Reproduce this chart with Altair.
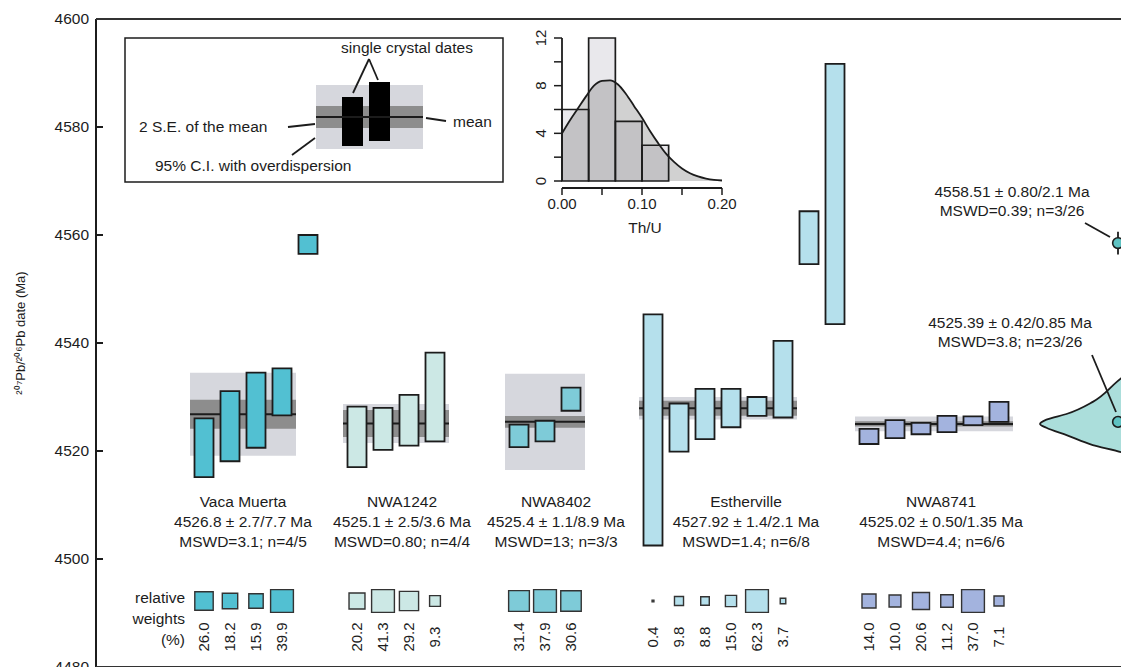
import altair as alt
import pandas as pd

FONT = "Liberation Sans"
INK = "#1c1c1c"

# ---------------- data ----------------
groups = ["Vaca Muerta", "NWA1242", "NWA8402", "Estherville", "NWA8741"]
group_colors = ["#52c0d2", "#cce8e5", "#7ecbd8", "#b5e0ec", "#a3b3de"]
group_mean = [4526.8, 4525.1, 4525.4, 4527.92, 4525.02]
group_se2 = [2.7, 2.5, 1.1, 1.4, 0.50]
group_ci = [7.7, 3.6, 8.9, 2.1, 1.35]
group_date_text = ["4526.8 ± 2.7/7.7 Ma", "4525.1 ± 2.5/3.6 Ma", "4525.4 ± 1.1/8.9 Ma",
                   "4527.92 ± 1.4/2.1 Ma", "4525.02 ± 0.50/1.35 Ma"]
group_mswd_text = ["MSWD=3.1; n=4/5", "MSWD=0.80; n=4/4", "MSWD=13; n=3/3",
                   "MSWD=1.4; n=6/8", "MSWD=4.4; n=6/6"]

crystal_group = [0] * 4 + [1] * 4 + [2] * 3 + [3] * 6 + [4] * 6
crystal_date = [4520.6, 4524.6, 4527.55, 4530.95,
                4522.6, 4524.1, 4525.7, 4530.0,
                4522.8, 4523.7, 4529.6,
                4523.9, 4524.35, 4526.85, 4527.95, 4528.25, 4533.3,
                4522.7, 4524.05, 4524.15, 4525.0, 4525.6, 4527.25]
crystal_err = [5.45, 6.5, 6.95, 4.35,
               5.6, 3.9, 4.7, 8.2,
               2.1, 1.9, 2.15,
               21.4, 4.45, 4.65, 3.55, 1.75, 7.1,
               1.4, 1.65, 1.05, 1.5, 0.8, 1.85]
crystal_weight = [26.0, 18.2, 15.9, 39.9,
                  20.2, 41.3, 29.2, 9.3,
                  31.4, 37.9, 30.6,
                  0.4, 9.8, 8.8, 15.0, 62.3, 3.7,
                  14.0, 10.0, 20.6, 11.2, 37.0, 7.1]

rejected_group = [0, 3, 3]
rejected_slot = [4, 6, 7]
rejected_date = [4558.25, 4559.5, 4567.6]
rejected_err = [1.75, 4.9, 24.1]

combined_date = [4558.51, 4525.39]
combined_err = [2.1, 0.85]
combined_date_text = ["4558.51 ± 0.80/2.1 Ma", "4525.39 ± 0.42/0.85 Ma"]
combined_mswd_text = ["MSWD=0.39; n=3/26", "MSWD=3.8; n=23/26"]

violin_date = [4500, 4505, 4510, 4514, 4516, 4518, 4519.6, 4521.1, 4522.9, 4524.3, 4525.0,
               4525.8, 4526.9, 4529.1, 4532.8, 4534.8, 4537, 4540, 4545, 4550, 4555, 4558.5,
               4562, 4570]
violin_density = [0.02, 0.06, 0.14, 0.26, 0.34, 0.44, 0.48, 0.67, 0.83, 0.96, 1.0,
                  0.96, 0.83, 0.67, 0.52, 0.44, 0.37, 0.29, 0.19, 0.12, 0.1, 0.11,
                  0.08, 0.02]

thu_bin_lo = [0.0, 0.0333, 0.0667, 0.1]
thu_bin_hi = [0.0333, 0.0667, 0.1, 0.1333]
thu_count = [6, 12, 5, 3]
thu_kde_x = [0.00, 0.01, 0.02, 0.03, 0.04, 0.05, 0.06, 0.07, 0.08, 0.09, 0.10,
             0.11, 0.12, 0.13, 0.14, 0.15, 0.16, 0.17, 0.18, 0.19, 0.20]
thu_kde_y = [4.0, 5.1, 6.1, 7.1, 8.0, 8.4, 8.45, 8.1, 7.3, 6.3, 5.3,
             4.2, 3.2, 2.3, 1.6, 1.05, 0.65, 0.38, 0.2, 0.09, 0.04]

date_ticks = [4480, 4500, 4520, 4540, 4560, 4580, 4600]
date_title = "²⁰⁷Pb/²⁰⁶Pb date (Ma)"
thu_x_ticks = [0.0, 0.05, 0.10, 0.15, 0.20]
thu_x_labels = [0.0, 0.10, 0.20]
thu_y_ticks = [0, 2, 4, 6, 8, 10, 12]
thu_y_labels = [0, 4, 8, 12]

# ---------------- layout (reference pixel frame) ----------------
W, H = 1025, 648
X0, Y0 = 96, 19
first_x = [204, 357, 519, 653, 869]
SLOT = 26
HALF = 9.5
PAD = 14
label_x = [243, 402, 556, 746, 941]
label_base = [507, 527, 547]
square_y = 601 - Y0
wlabel_y = 637 - Y0
combined_x = 1118
combined_label_x = [1012, 1010]
combined_label_base = [[197, 216], [328, 347]]

xs = alt.Scale(domain=[X0, X0 + W], nice=False, zero=False)
ys = alt.Scale(domain=[4480, 4600], nice=False, zero=False)
ays = alt.Scale(domain=[Y0, Y0 + H], reverse=True, nice=False, zero=False)
cscale = alt.Scale(domain=groups, range=group_colors)

# crystals
slots, cnt = [], {}
for g in crystal_group:
    slots.append(cnt.get(g, 0))
    cnt[g] = cnt.get(g, 0) + 1
cry = pd.DataFrame({
    "group": [groups[g] for g in crystal_group],
    "x": [first_x[g] + SLOT * s for g, s in zip(crystal_group, slots)],
    "lo": [d - e for d, e in zip(crystal_date, crystal_err)],
    "hi": [d + e for d, e in zip(crystal_date, crystal_err)],
    "weight": crystal_weight,
})
cry["x0"] = cry["x"] - HALF
cry["x1"] = cry["x"] + HALF

rej = pd.DataFrame({
    "group": [groups[g] for g in rejected_group],
    "x": [first_x[g] + SLOT * s for g, s in zip(rejected_group, rejected_slot)],
    "lo": [d - e for d, e in zip(rejected_date, rejected_err)],
    "hi": [d + e for d, e in zip(rejected_date, rejected_err)],
})
rej["x0"] = rej["x"] - HALF
rej["x1"] = rej["x"] + HALF

bands = pd.DataFrame({
    "group": groups,
    "x0": [first_x[i] - PAD for i in range(5)],
    "x1": [first_x[i] + SLOT * (cnt[i] - 1) + PAD for i in range(5)],
    "mean": group_mean,
    "ci_lo": [m - c for m, c in zip(group_mean, group_ci)],
    "ci_hi": [m + c for m, c in zip(group_mean, group_ci)],
    "se_lo": [m - s for m, s in zip(group_mean, group_se2)],
    "se_hi": [m + s for m, s in zip(group_mean, group_se2)],
})

light = alt.Chart(bands).mark_rect(color="#d6d7dd").encode(
    x=alt.X("x0:Q", scale=xs, axis=None), x2="x1:Q",
    y=alt.Y("ci_lo:Q", scale=ys, axis=None), y2="ci_hi:Q")
dark = alt.Chart(bands).mark_rect(color="#8d8d8d").encode(
    x=alt.X("x0:Q", scale=xs, axis=None), x2="x1:Q",
    y=alt.Y("se_lo:Q", scale=ys, axis=None), y2="se_hi:Q")
meanline = alt.Chart(bands).mark_rule(color=INK, strokeWidth=2).encode(
    x=alt.X("x0:Q", scale=xs, axis=None), x2="x1:Q",
    y=alt.Y("mean:Q", scale=ys, axis=None))

tick_df = pd.DataFrame({"t": date_ticks})
ydomain = alt.Chart(pd.DataFrame({"a": [0]})).mark_rule(color=INK, strokeWidth=2).encode(
    x=alt.value(0), y=alt.value(0), y2=alt.value(H))
ticks = alt.Chart(tick_df).mark_rule(color=INK, strokeWidth=2).encode(
    y=alt.Y("t:Q", scale=ys, axis=None), x=alt.value(0), x2=alt.value(7))
ylabels = alt.Chart(tick_df).mark_text(align="right", baseline="middle", font=FONT,
                                       fontSize=15.5, color=INK).encode(
    y=alt.Y("t:Q", scale=ys, axis=None), x=alt.value(-7), text=alt.Text("t:Q"))

bars = alt.Chart(cry).mark_rect(stroke=INK, strokeWidth=1.8).encode(
    x=alt.X("x0:Q", scale=xs, axis=None), x2="x1:Q",
    y=alt.Y("lo:Q", scale=ys, axis=None), y2="hi:Q",
    color=alt.Color("group:N", scale=cscale, legend=None))
rbars = alt.Chart(rej).mark_rect(stroke=INK, strokeWidth=1.8).encode(
    x=alt.X("x0:Q", scale=xs, axis=None), x2="x1:Q",
    y=alt.Y("lo:Q", scale=ys, axis=None), y2="hi:Q",
    color=alt.Color("group:N", scale=cscale, legend=None))

squares = alt.Chart(cry).transform_joinaggregate(
    wmax="max(weight)", groupby=["group"]
).transform_calculate(rel="datum.weight / datum.wmax").mark_square(
    stroke="#333333", strokeWidth=1.4, opacity=1).encode(
    x=alt.X("x:Q", scale=xs, axis=None), y=alt.value(square_y),
    size=alt.Size("rel:Q", scale=alt.Scale(domain=[0, 1], range=[0, 520]), legend=None),
    color=alt.Color("group:N", scale=cscale, legend=None))
wlabels = alt.Chart(cry).mark_text(angle=270, align="center", baseline="middle",
                                   font=FONT, fontSize=15, color=INK).encode(
    x=alt.X("x:Q", scale=xs, axis=None), y=alt.value(wlabel_y),
    text=alt.Text("weight:Q", format=".1f"))

comb = pd.DataFrame({
    "x": [combined_x] * 2,
    "date": combined_date,
    "lo": [d - e for d, e in zip(combined_date, combined_err)],
    "hi": [d + e for d, e in zip(combined_date, combined_err)],
})
comb_err = alt.Chart(comb).mark_rule(color=INK, strokeWidth=1.8).encode(
    x=alt.X("x:Q", scale=xs, axis=None), y=alt.Y("lo:Q", scale=ys, axis=None), y2="hi:Q")
comb_pt = alt.Chart(comb).mark_circle(size=115, color="#5ec2c2", stroke=INK,
                                      strokeWidth=1.6, opacity=1).encode(
    x=alt.X("x:Q", scale=xs, axis=None), y=alt.Y("date:Q", scale=ys, axis=None))

main = alt.layer(light, dark, meanline, ydomain, ticks, ylabels, bars, rbars, squares,
                 wlabels, comb_err, comb_pt)

# ---------------- violin ----------------
vdf = pd.DataFrame({"date": violin_date, "density": violin_density})
violin = alt.Chart(vdf).mark_area(orient="horizontal", interpolate="monotone", fill="#abdedb",
                                  stroke=INK, strokeWidth=1.8, clip=True).encode(
    y=alt.Y("date:Q", scale=ys, axis=None),
    x=alt.X("density:Q", scale=alt.Scale(domain=[0, 1], range=[1200 - X0, 1040 - X0]),
            axis=None))

# ---------------- Th/U histogram inset ----------------
hx = alt.Scale(domain=[0, 0.2], range=[562 - X0, 722 - X0], nice=False, zero=False)
hy = alt.Scale(domain=[0, 12], range=[181 - Y0, 38 - Y0], nice=False, zero=False)
hdf = pd.DataFrame({"lo": thu_bin_lo, "hi": thu_bin_hi, "n": thu_count})
kdf = pd.DataFrame({"t": thu_kde_x, "d": thu_kde_y})
one = pd.DataFrame({"a": [0]})
h_fill = alt.Chart(hdf).mark_rect(color="#e9e8ec").encode(
    x=alt.X("lo:Q", scale=hx, axis=None), x2="hi:Q",
    y=alt.Y("n:Q", scale=hy, axis=None), y2=alt.datum(0))
k_area = alt.Chart(kdf).mark_area(color="#7f7f7f", opacity=0.36, interpolate="monotone").encode(
    x=alt.X("t:Q", scale=hx, axis=None), y=alt.Y("d:Q", scale=hy, axis=None))
h_out = alt.Chart(hdf).mark_rect(fillOpacity=0, stroke=INK, strokeWidth=1.7).encode(
    x=alt.X("lo:Q", scale=hx, axis=None), x2="hi:Q",
    y=alt.Y("n:Q", scale=hy, axis=None), y2=alt.datum(0))
k_line = alt.Chart(kdf).mark_line(color=INK, strokeWidth=1.8, interpolate="monotone").encode(
    x=alt.X("t:Q", scale=hx, axis=None), y=alt.Y("d:Q", scale=hy, axis=None))
hy_dom = alt.Chart(one).mark_rule(color=INK, strokeWidth=1.8).encode(
    x=alt.value(562 - X0), y=alt.value(181 - Y0), y2=alt.value(38 - Y0))
hy_tk = alt.Chart(pd.DataFrame({"t": thu_y_ticks})).mark_rule(color=INK, strokeWidth=1.5).encode(
    y=alt.Y("t:Q", scale=hy, axis=None), x=alt.value(562 - X0 - 8), x2=alt.value(562 - X0))
hy_lb = alt.Chart(pd.DataFrame({"t": thu_y_labels})).mark_text(
    angle=270, align="center", baseline="middle", font=FONT, fontSize=15, color=INK).encode(
    y=alt.Y("t:Q", scale=hy, axis=None), x=alt.value(541 - X0), text=alt.Text("t:Q"))
hx_dom = alt.Chart(one).mark_rule(color=INK, strokeWidth=1.8).encode(
    y=alt.value(188 - Y0), x=alt.value(562 - X0), x2=alt.value(722 - X0))
hx_tk = alt.Chart(pd.DataFrame({"t": thu_x_ticks})).mark_rule(color=INK, strokeWidth=1.5).encode(
    x=alt.X("t:Q", scale=hx, axis=None), y=alt.value(188 - Y0), y2=alt.value(195 - Y0))
hx_lb = alt.Chart(pd.DataFrame({"t": thu_x_labels})).mark_text(
    align="center", baseline="middle", font=FONT, fontSize=15, color=INK).encode(
    x=alt.X("t:Q", scale=hx, axis=None), y=alt.value(204 - Y0),
    text=alt.Text("t:Q", format=".2f"))
hist = alt.layer(h_fill, k_area, h_out, k_line, hy_dom, hy_tk, hy_lb, hx_dom, hx_tk, hx_lb)

# ---------------- annotations (reference pixel frame) ----------------
frame = pd.DataFrame({"x": [X0, X0], "x2": [X0 + W, X0 + W], "y": [Y0, Y0 + H], "y2": [Y0, Y0 + H]})
frame_l = alt.Chart(frame).mark_rule(color="#333333", strokeWidth=2).encode(
    x=alt.X("x:Q", scale=xs, axis=None), x2="x2:Q",
    y=alt.Y("y:Q", scale=ays, axis=None), y2="y2:Q")

key_rects = pd.DataFrame({
    "x": [316, 316, 342, 369], "x2": [423, 423, 363, 390],
    "y": [85, 106, 97, 82], "y2": [149, 128, 146, 141],
    "fill": ["#d6d7dd", "#8d8d8d", "#000000", "#000000"],
})
key_r = alt.Chart(key_rects).mark_rect().encode(
    x=alt.X("x:Q", scale=xs, axis=None), x2="x2:Q",
    y=alt.Y("y:Q", scale=ays, axis=None), y2="y2:Q",
    color=alt.Color("fill:N", scale=None))
key_box = alt.Chart(pd.DataFrame({"x": [125], "x2": [503], "y": [38], "y2": [182]})).mark_rect(
    fillOpacity=0, stroke=INK, strokeWidth=1.5).encode(
    x=alt.X("x:Q", scale=xs, axis=None), x2="x2:Q",
    y=alt.Y("y:Q", scale=ays, axis=None), y2="y2:Q")
seg = pd.DataFrame({
    "x": [316, 369, 369, 426, 288, 292, 1085, 1092],
    "y": [117, 59, 59, 118, 127, 155, 223, 355],
    "x2": [423, 353, 378, 446, 315, 315, 1110, 1116],
    "y2": [117, 93, 80, 121, 124, 138, 237, 412],
})
seg_l = alt.Chart(seg).mark_rule(color=INK, strokeWidth=1.8).encode(
    x=alt.X("x:Q", scale=xs, axis=None), x2="x2:Q",
    y=alt.Y("y:Q", scale=ays, axis=None), y2="y2:Q")

ctext_rows = []
for i in range(5):
    for j, t in enumerate([groups[i], group_date_text[i], group_mswd_text[i]]):
        ctext_rows.append({"x": label_x[i], "y": label_base[j], "t": t})
for i in range(2):
    for j, t in enumerate([combined_date_text[i], combined_mswd_text[i]]):
        ctext_rows.append({"x": combined_label_x[i], "y": combined_label_base[i][j], "t": t})
ctext = alt.Chart(pd.DataFrame(ctext_rows)).mark_text(
    align="center", baseline="alphabetic", font=FONT, fontSize=15.5, color=INK).encode(
    x=alt.X("x:Q", scale=xs, axis=None), y=alt.Y("y:Q", scale=ays, axis=None), text="t:N")
mtext = alt.Chart(pd.DataFrame({"x": [407, 645], "y": [48, 228],
                                "t": ["single crystal dates", "Th/U"]})).mark_text(
    align="center", baseline="middle", font=FONT, fontSize=15.5, color=INK).encode(
    x=alt.X("x:Q", scale=xs, axis=None), y=alt.Y("y:Q", scale=ays, axis=None), text="t:N")
ltext = alt.Chart(pd.DataFrame({"x": [453, 139, 155], "y": [122, 127, 166],
                                "t": ["mean", "2 S.E. of the mean",
                                      "95% C.I. with overdispersion"]})).mark_text(
    align="left", baseline="middle", font=FONT, fontSize=15.5, color=INK).encode(
    x=alt.X("x:Q", scale=xs, axis=None), y=alt.Y("y:Q", scale=ays, axis=None), text="t:N")
rtext = alt.Chart(pd.DataFrame({"x": [185, 185, 185], "y": [598, 619, 640],
                                "t": ["relative", "weights", "(%)"]})).mark_text(
    align="right", baseline="middle", font=FONT, fontSize=15.5, color=INK).encode(
    x=alt.X("x:Q", scale=xs, axis=None), y=alt.Y("y:Q", scale=ays, axis=None), text="t:N")
ttext = alt.Chart(pd.DataFrame({"x": [21], "y": [333], "t": [date_title]})).mark_text(
    align="center", baseline="middle", angle=270, font=FONT, fontSize=13, color=INK).encode(
    x=alt.X("x:Q", scale=xs, axis=None), y=alt.Y("y:Q", scale=ays, axis=None), text="t:N")
annot = alt.layer(frame_l, key_r, key_box, seg_l, ctext, mtext, ltext, rtext, ttext)

chart = alt.layer(violin, main, hist, annot).resolve_scale(
    x="independent", y="independent", color="independent", size="independent"
).properties(
    width=W, height=H,
    autosize=alt.AutoSizeParams(type="none"),
    padding={"left": 88, "top": 11, "right": 0, "bottom": 0},
).configure_view(stroke=None)

chart.save("out.html", embed_options={"renderer": "svg", "actions": False})
